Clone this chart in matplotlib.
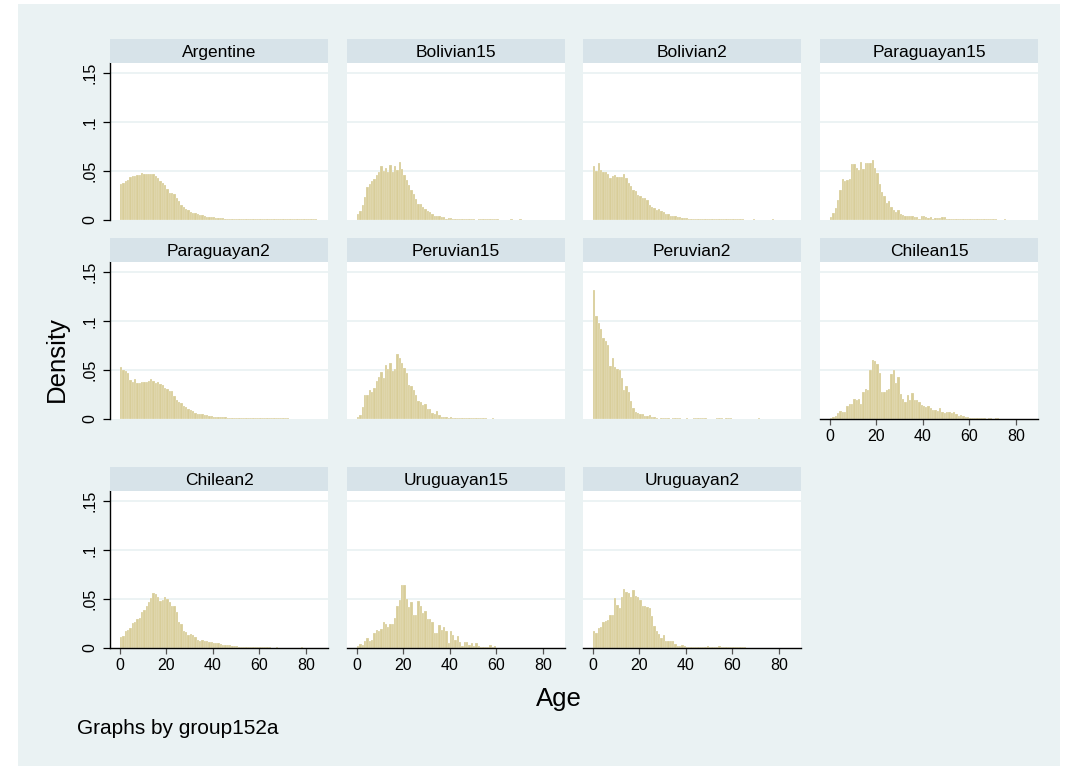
import matplotlib
matplotlib.use("Agg")
from matplotlib import pyplot as plt
from matplotlib.patches import Rectangle
import numpy as np

plt.rcParams['font.family'] = ['Liberation Sans', 'DejaVu Sans']

# density per one-year age bin, starting at age 0
argentine = [0.037, 0.0377, 0.040, 0.041, 0.044, 0.0445, 0.0445, 0.0455, 0.046, 0.048,
             0.047, 0.0466, 0.0466, 0.047, 0.0466, 0.0445, 0.0425, 0.040, 0.038, 0.036,
             0.0315, 0.028, 0.028, 0.026, 0.022, 0.019, 0.0154, 0.0137, 0.011, 0.010,
             0.0086, 0.0075, 0.0068, 0.006, 0.005, 0.0048, 0.004, 0.0034, 0.003, 0.003,
             0.0027, 0.0024, 0.002, 0.002, 0.0017, 0.0014, 0.0014, 0.0013, 0.0013, 0.0013,
             0.0012, 0.0012, 0.0012, 0.0012, 0.0012, 0.0012, 0.0011, 0.0011, 0.0011, 0.0011,
             0.0011, 0.0011, 0.001, 0.001, 0.001, 0.001, 0.001, 0.001, 0.001, 0.001,
             0.001, 0.001, 0.001, 0.001, 0.0009, 0.0009, 0.0009, 0.0009, 0.0009, 0.0009,
             0.0008, 0.0008, 0.0008, 0.0008, 0.0008]
bolivian15 = [0.006, 0.0095, 0.015, 0.023, 0.034, 0.037, 0.040, 0.042, 0.046, 0.049,
              0.055, 0.050, 0.053, 0.049, 0.056, 0.049, 0.055, 0.051, 0.059, 0.052,
              0.046, 0.041, 0.036, 0.031, 0.027, 0.021, 0.016, 0.016, 0.0136, 0.011,
              0.0095, 0.0085, 0.006, 0.004, 0.004, 0.0037, 0.003, 0.0027, 0.0014, 0.0017,
              0.0017, 0.001, 0.001, 0.001, 0.001, 0.001, 0.0007, 0.001, 0.0007, 0.0007,
              0.0007, 0, 0.0007, 0.0007, 0.0007, 0.0007, 0.0007, 0.0007, 0.0007, 0.0007,
              0.0007, 0, 0, 0, 0, 0, 0.0007, 0, 0, 0, 0.0007]
bolivian2 = [0.055, 0.050, 0.0585, 0.051, 0.049, 0.0487, 0.047, 0.0425, 0.045, 0.046,
             0.0435, 0.0435, 0.0435, 0.047, 0.0425, 0.038, 0.035, 0.031, 0.030, 0.0255,
             0.024, 0.022, 0.022, 0.020, 0.015, 0.0136, 0.012, 0.010, 0.011, 0.0095,
             0.0085, 0.006, 0.006, 0.0044, 0.004, 0.004, 0.003, 0.003, 0.0024, 0.002,
             0.002, 0.0014, 0.0014, 0.0014, 0.001, 0.001, 0.001, 0.001, 0.001, 0.0007,
             0.0007, 0.0007, 0.0007, 0.0007, 0.0007, 0.0007, 0.0007, 0.0007, 0.0007, 0.0007,
             0.0007, 0.0007, 0.0007, 0.0007, 0.0007, 0, 0, 0, 0, 0.0007,
             0, 0, 0, 0, 0, 0, 0, 0.0007]
paraguayan15 = [0.0034, 0.0075, 0.012, 0.020, 0.031, 0.0415, 0.040, 0.041, 0.0415, 0.057,
                0.057, 0.053, 0.051, 0.059, 0.052, 0.058, 0.058, 0.0585, 0.061, 0.053,
                0.048, 0.037, 0.029, 0.024, 0.0177, 0.019, 0.013, 0.010, 0.0085, 0.0099,
                0.006, 0.005, 0.0037, 0.0037, 0.0037, 0.0037, 0.0034, 0.0027, 0.0014, 0.0037,
                0.0037, 0.003, 0.0024, 0.0027, 0.0014, 0.0017, 0.0017, 0.0017, 0.0027, 0.003,
                0.001, 0.0007, 0.001, 0.001, 0.001, 0.0014, 0.0014, 0.0014, 0.001, 0.001,
                0.001, 0.001, 0.0014, 0.0014, 0.001, 0.001, 0.001, 0.001, 0.001, 0.001,
                0.001, 0.0007, 0, 0, 0, 0.0007]
paraguayan2 = [0.0527, 0.050, 0.049, 0.047, 0.040, 0.0374, 0.041, 0.0367, 0.0367, 0.0374,
               0.038, 0.038, 0.039, 0.041, 0.039, 0.0367, 0.0374, 0.036, 0.035, 0.032,
               0.0306, 0.029, 0.029, 0.023, 0.019, 0.0177, 0.016, 0.013, 0.012, 0.010,
               0.0095, 0.008, 0.006, 0.0054, 0.005, 0.005, 0.0044, 0.0037, 0.0034, 0.003,
               0.0024, 0.0024, 0.002, 0.002, 0.002, 0.0017, 0.0014, 0.0014, 0.0014, 0.0014,
               0.0014, 0.0012, 0.0012, 0.001, 0.001, 0.001, 0.001, 0.001, 0.001, 0.001,
               0.001, 0.001, 0.001, 0.0007, 0.001, 0.001, 0.001, 0.0007, 0.001, 0.0007,
               0.001, 0.0007, 0.0007]
peruvian15 = [0.002, 0.0044, 0.012, 0.0245, 0.024, 0.0296, 0.028, 0.032, 0.039, 0.0425,
              0.0476, 0.0415, 0.055, 0.051, 0.057, 0.049, 0.051, 0.066, 0.062, 0.057,
              0.052, 0.047, 0.035, 0.034, 0.030, 0.024, 0.0187, 0.017, 0.0143, 0.015,
              0.010, 0.010, 0.006, 0.005, 0.008, 0.004, 0.002, 0.002, 0.002, 0.001,
              0.002, 0.0014, 0.001, 0.0007, 0.0014, 0.0007, 0.0014, 0.0014, 0.0007, 0.0014,
              0.0014, 0.0014, 0.001, 0.0007, 0.0007, 0.001, 0, 0, 0.001]
peruvian2 = [0.1315, 0.1047, 0.098, 0.092, 0.083, 0.079, 0.075, 0.054, 0.062, 0.053,
             0.051, 0.0497, 0.042, 0.030, 0.034, 0.0275, 0.018, 0.011, 0.0067, 0.006,
             0.0054, 0.005, 0.0027, 0.0034, 0.004, 0.002, 0.0017, 0.0013, 0, 0.001,
             0.0007, 0.001, 0.0007, 0, 0.0007, 0.0007, 0.0007, 0.0007, 0, 0,
             0.0007, 0, 0, 0.0007, 0.0007, 0.0007, 0.0007, 0.0007, 0.0007, 0,
             0, 0, 0, 0.0007, 0.0007, 0.0007, 0, 0.0007, 0.0007, 0.0007,
             0, 0, 0, 0, 0, 0, 0, 0, 0, 0, 0, 0.0007]
chilean15 = [0.0014, 0.002, 0.0034, 0.0057, 0.0084, 0.0068, 0.0068, 0.013, 0.015, 0.0152,
             0.020, 0.0193, 0.020, 0.015, 0.0277, 0.031, 0.030, 0.0497, 0.0605, 0.059,
             0.0564, 0.047, 0.0277, 0.0277, 0.030, 0.031, 0.0456, 0.050, 0.037, 0.043,
             0.025, 0.020, 0.0176, 0.024, 0.019, 0.027, 0.019, 0.019, 0.0176, 0.014,
             0.0135, 0.0125, 0.013, 0.0115, 0.009, 0.009, 0.008, 0.011, 0.0074, 0.0057,
             0.0068, 0.0074, 0.0057, 0.0074, 0.0047, 0.0034, 0.004, 0.0027, 0.0024, 0.0017,
             0.001, 0.001, 0.0007, 0.001, 0.0007, 0.001, 0.0007, 0, 0.0007, 0.0007,
             0, 0.0007, 0.0007]
chilean2 = [0.011, 0.012, 0.0172, 0.018, 0.0206, 0.0257, 0.026, 0.030, 0.031, 0.037,
            0.039, 0.043, 0.0466, 0.0507, 0.056, 0.055, 0.0517, 0.048, 0.049, 0.052,
            0.050, 0.047, 0.043, 0.0425, 0.037, 0.027, 0.0247, 0.0169, 0.0162, 0.0128,
            0.0139, 0.0128, 0.011, 0.0085, 0.007, 0.0078, 0.0068, 0.0068, 0.006, 0.006,
            0.0054, 0.0054, 0.0047, 0.0037, 0.0034, 0.0027, 0.0034, 0.0027, 0.0024, 0.002,
            0.002, 0.0014, 0.0012, 0.0012, 0.0012, 0.0012, 0.0012, 0.001, 0.001, 0.0012,
            0.001, 0.0007, 0.0007, 0.0007, 0.0007, 0, 0, 0.0007, 0, 0,
            0, 0, 0, 0, 0, 0, 0, 0, 0.0007]
uruguayan15 = [0.0024, 0.0038, 0.003, 0.0072, 0.010, 0.0076, 0.0086, 0.0155, 0.0186, 0.017,
               0.0197, 0.0266, 0.0245, 0.021, 0.024, 0.024, 0.031, 0.043, 0.049, 0.0645,
               0.0645, 0.050, 0.042, 0.0466, 0.034, 0.0334, 0.048, 0.043, 0.036, 0.038,
               0.030, 0.030, 0.026, 0.0155, 0.0148, 0.023, 0.0186, 0.0214, 0.017, 0.0048,
               0.017, 0.0134, 0.008, 0.012, 0.006, 0.002, 0.006, 0.006, 0.0034, 0.0055,
               0.0024, 0.005, 0.0017, 0.0014, 0.001, 0.001, 0.0007, 0.0028, 0.0014, 0.0017]
uruguayan2 = [0.0169, 0.0155, 0.0207, 0.0214, 0.027, 0.028, 0.029, 0.0334, 0.034, 0.051,
              0.044, 0.041, 0.052, 0.0597, 0.057, 0.056, 0.052, 0.0586, 0.053, 0.052,
              0.0486, 0.043, 0.043, 0.042, 0.041, 0.0328, 0.0224, 0.0176, 0.0145, 0.010,
              0.0134, 0.0076, 0.0072, 0.0076, 0.0072, 0.004, 0.0024, 0.0024, 0.003, 0.0017,
              0.0014, 0.0014, 0.0014, 0.0014, 0.0014, 0.0014, 0.0014, 0.0014, 0.001, 0.0017,
              0.001, 0.0007, 0.0007, 0.001, 0.0017, 0.001, 0.0007, 0.001, 0.0007, 0.0007,
              0.0007, 0.0007, 0.0007, 0.0007, 0.0007, 0.0007]

groups = ['Argentine', 'Bolivian15', 'Bolivian2', 'Paraguayan15',
          'Paraguayan2', 'Peruvian15', 'Peruvian2', 'Chilean15',
          'Chilean2', 'Uruguayan15', 'Uruguayan2']
densities = [argentine, bolivian15, bolivian2, paraguayan15,
             paraguayan2, peruvian15, peruvian2, chilean15,
             chilean2, uruguayan15, uruguayan2]

y_ticks = [0, 0.05, 0.1, 0.15]
y_labels = ['0', '.05', '.1', '.15']
x_ticks = [0, 20, 40, 60, 80]

bar_color = '#d8cd99'
bg_color = '#eaf2f3'
strip_color = '#d7e3e9'

W, H = 1076, 767
fig = plt.figure(figsize=(W / 100, H / 100), dpi=100, facecolor='white')
fig.patches.append(Rectangle((18 / W, 1 / H), (1060 - 18) / W, (763 - 1) / H,
                             transform=fig.transFigure, facecolor=bg_color,
                             edgecolor='none', zorder=-10))

col_left = [110, 347, 583, 820]
row_top = [63, 262, 491]   # top of plot region, pixels from top
pw, ph, sh = 218, 157, 24

for k, (name, dens) in enumerate(zip(groups, densities)):
    r, c = divmod(k, 4)
    x0, y0 = col_left[c], row_top[r]
    ax = fig.add_axes([x0 / W, 1 - (y0 + ph) / H, pw / W, ph / H])
    ax.set_facecolor('white')
    ages = np.arange(len(dens))
    ax.bar(ages, dens, width=1, align='edge', color=bar_color,
           edgecolor='white', linewidth=0.15, zorder=2)
    for yt in y_ticks[1:]:
        ax.axhline(yt, color=bg_color, linewidth=1.3, zorder=1)
    ax.set_xlim(-4.3, 89.6)
    ax.set_ylim(0, 0.160)
    for s in ax.spines.values():
        s.set_visible(False)

    bottom = (k >= 7)
    if c == 0:
        ax.spines['left'].set_visible(True)
        ax.spines['left'].set_linewidth(1.0)
        ax.set_yticks(y_ticks)
        ax.set_yticklabels(y_labels, rotation=90, va='center', fontsize=11.5)
        ax.tick_params(axis='y', length=5, width=0.9, pad=4)
    else:
        ax.set_yticks([])
    if bottom:
        ax.spines['bottom'].set_visible(True)
        ax.spines['bottom'].set_linewidth(1.0)
        ax.set_xticks(x_ticks)
        ax.tick_params(axis='x', length=4.5, width=0.9, pad=3, labelsize=11.5,
                       color='#555555')
    else:
        ax.set_xticks([])

    sax = fig.add_axes([x0 / W, 1 - y0 / H, pw / W, sh / H])
    sax.set_facecolor(strip_color)
    sax.set_xticks([])
    sax.set_yticks([])
    for s in sax.spines.values():
        s.set_visible(False)
    sax.text(0.5, 0.45, name, ha='center', va='center', fontsize=12.5,
             transform=sax.transAxes)

fig.text(57 / W, 1 - 359 / H, 'Density', rotation=90, ha='center', va='center',
         fontsize=18.5)
fig.text(559 / W, 1 - 699 / H, 'Age', ha='center', va='center', fontsize=18.5)
fig.text(77 / W, 1 - 729 / H, 'Graphs by group152a', ha='left', va='center',
         fontsize=15)

fig.savefig('out.png', dpi=100, facecolor='white')
